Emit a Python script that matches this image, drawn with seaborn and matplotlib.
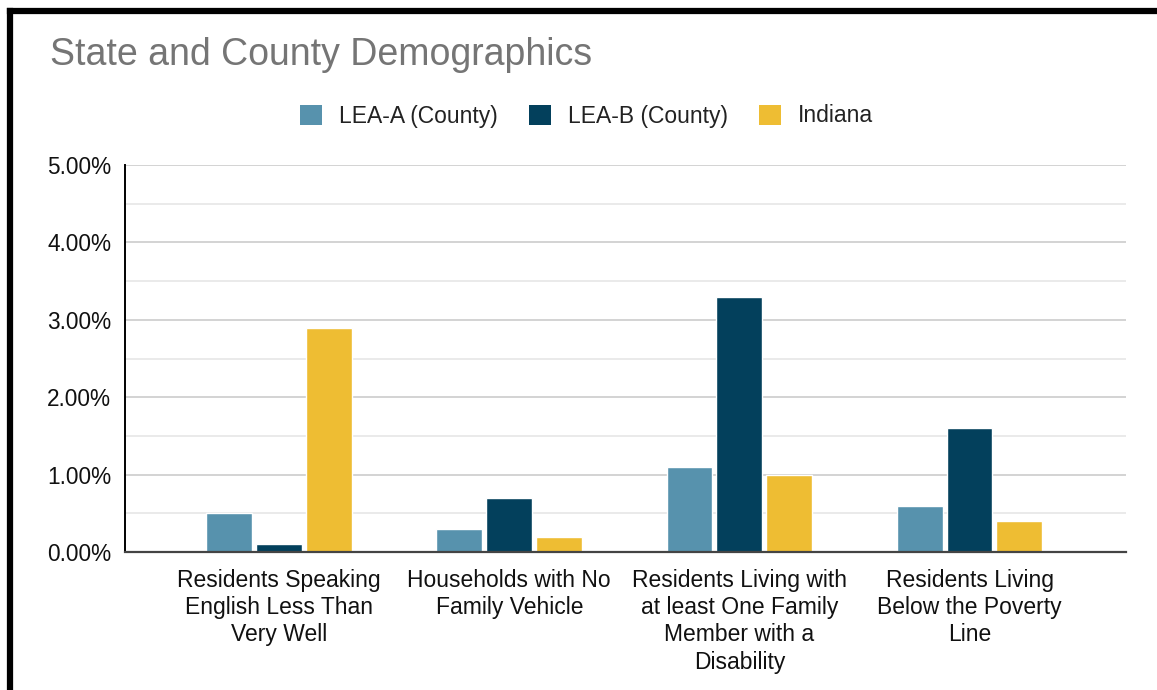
import matplotlib
matplotlib.use("Agg")
import matplotlib.pyplot as plt
from matplotlib.lines import Line2D
from matplotlib.patches import Patch
from matplotlib.ticker import MultipleLocator, FuncFormatter
import pandas as pd
import seaborn as sns

categories = [
    "Residents Speaking\nEnglish Less Than\nVery Well",
    "Households with No\nFamily Vehicle",
    "Residents Living with\nat least One Family\nMember with a\nDisability",
    "Residents Living\nBelow the Poverty\nLine",
]
series_names = ["LEA-A (County)", "LEA-B (County)", "Indiana"]
lea_a = [0.5, 0.3, 1.1, 0.6]
lea_b = [0.1, 0.7, 3.3, 1.6]
indiana = [2.9, 0.2, 1.0, 0.4]

colors = ["#5792ad", "#03405c", "#eebd33"]

df = pd.DataFrame({
    "category": categories * 3,
    "series": [s for s in series_names for _ in categories],
    "value": lea_a + lea_b + indiana,
})

sns.set_theme(style="white")
plt.rcParams["font.family"] = ["Liberation Sans", "DejaVu Sans"]

fig = plt.figure(figsize=(11.57, 6.90), dpi=100)
ax = fig.add_axes([125 / 1157, 1 - 552 / 690, (1126 - 125) / 1157, (552 - 165) / 690])

sns.barplot(data=df, x="category", y="value", hue="series", order=categories,
            hue_order=series_names, palette=colors, width=0.65, gap=0.08,
            saturation=1, legend=False, ax=ax, zorder=3)

ax.set_ylim(0, 5)
ax.set_xlim(-0.67, 3.68)
ax.yaxis.set_major_locator(MultipleLocator(1))
ax.yaxis.set_minor_locator(MultipleLocator(0.5))
ax.yaxis.set_major_formatter(FuncFormatter(lambda v, _: f"{v:.2f}%"))
ax.grid(axis="y", which="major", color="#cccccc", linewidth=1.2, zorder=0)
ax.grid(axis="y", which="minor", color="#e6e6e6", linewidth=1.2, zorder=0)
ax.set_axisbelow(True)

for side in ["top", "right"]:
    ax.spines[side].set_visible(False)
ax.spines["left"].set_color("#000000")
ax.spines["left"].set_linewidth(1.4)
ax.spines["bottom"].set_color("#444444")
ax.spines["bottom"].set_linewidth(1.6)
ax.spines["bottom"].set_zorder(4)

ax.tick_params(axis="y", which="both", length=0, pad=10, labelsize=16.3, labelcolor="#111111")
ax.tick_params(axis="x", length=0, pad=12, labelsize=16.5, labelcolor="#111111")
for lab in ax.get_xticklabels():
    lab.set_linespacing(1.24)
ax.set_xlabel("")
ax.set_ylabel("")

fig.text(50 / 1157, 1 - 55 / 690, "State and County Demographics", fontsize=27,
         color="#757575", va="center", ha="left")

handles = [Patch(facecolor=c, edgecolor="none") for c in colors]
fig.legend(handles, series_names, loc="center", bbox_to_anchor=(586.5 / 1157, 1 - 116 / 690),
           ncol=3, frameon=False, fontsize=16.5, handlelength=0.96, handleheight=0.96,
           handletextpad=0.74, columnspacing=1.35, labelcolor="#222222")

# black frame along the left and top edges
fig.add_artist(Line2D([10 / 1157, 10 / 1157], [0, 1 - 11 / 690], transform=fig.transFigure,
                      color="black", linewidth=4.5, solid_capstyle="projecting"))
fig.add_artist(Line2D([10 / 1157, 1], [1 - 11 / 690, 1 - 11 / 690], transform=fig.transFigure,
                      color="black", linewidth=4.5, solid_capstyle="projecting"))

fig.savefig("out.png", dpi=100, facecolor="white")
